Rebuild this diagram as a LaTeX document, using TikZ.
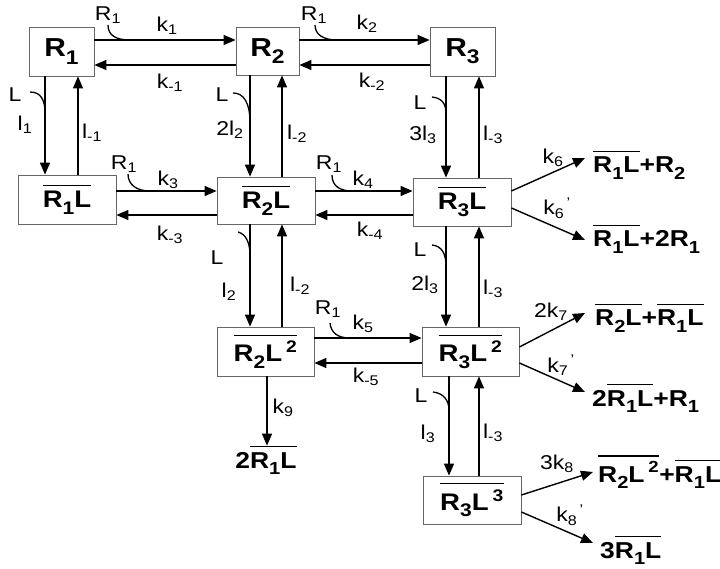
\documentclass[tikz,border=0pt]{standalone}
\usepackage{fontspec}
\usepackage{graphicx}
\setmainfont[FakeStretch=1.15]{Liberation Sans}
\usetikzlibrary{arrows.meta}
\newcommand{\ovl}[1]{\mbox{\vbox{\hrule height 1.3pt\kern 5pt\hbox{#1}}}}
\newcommand{\sbs}[1]{\textsubscript{#1}}
\newcommand{\bsb}[1]{\raisebox{-0.28em}{\scalebox{0.76}{#1}}}
\newcommand{\pr}{\textsuperscript{\,'}}
\begin{document}
\begin{tikzpicture}[x=1pt,y=-1pt,
  box/.style={draw=black!60, line width=0.8pt, fill=white, inner sep=0pt, font=\fontsize{24}{26}\selectfont\bfseries},
  topbox/.style={box, font=\fontsize{26}{28}\selectfont\bfseries},
  lbl/.style={inner sep=0pt, font=\fontsize{20}{22}\selectfont},
  prod/.style={inner sep=0pt, anchor=base west, font=\fontsize{23}{25}\selectfont\bfseries},
  arr/.style={-{Triangle[length=12pt,width=10pt]}, line width=1.4pt},
  hook/.style={line width=1.3pt}]
\fill[white] (0,0) rectangle (720,569);
\useasboundingbox (0,0) rectangle (720,569);

% boxes
\node[topbox, minimum width=65pt, minimum height=49pt] (R1) at (61.5,51.5) {R\bsb{1}};
\node[topbox, minimum width=63pt, minimum height=48pt] (R2) at (267.5,51) {R\bsb{2}};
\node[topbox, minimum width=65pt, minimum height=49pt] (R3) at (462.5,51.5) {R\bsb{3}};
\node[box, minimum width=98pt, minimum height=49pt] (R1L) at (67,199.5) {\ovl{R\bsb{1}L}};
\node[box, minimum width=98pt, minimum height=47pt] (R2L) at (266,200.5) {\ovl{R\bsb{2}L}};
\node[box, minimum width=98pt, minimum height=48pt] (R3L) at (462,202) {\ovl{R\bsb{3}L}};
\node[box, minimum width=97pt, minimum height=49pt] (R2L2) at (265.5,351.5) {\ovl{R\bsb{2}L\,\textsuperscript{2}}};
\node[box, minimum width=97pt, minimum height=49pt] (R3L2) at (470.5,351.5) {\ovl{R\bsb{3}L\,\textsuperscript{2}}};
\node[box, minimum width=98pt, minimum height=48pt] (R3L3) at (472,500) {\ovl{R\bsb{3}L\,\textsuperscript{3}}};

% products
\node[prod] (p6a) at (593,173) {\ovl{R\bsb{1}L}+R\bsb{2}};
\node[prod] (p6b) at (593,247) {\ovl{R\bsb{1}L}+2R\bsb{1}};
\node[prod] (p7a) at (595,326) {\ovl{R\bsb{2}L}+\ovl{R\bsb{1}L}};
\node[prod] (p7b) at (592,406) {2\ovl{R\bsb{1}L}+R\bsb{1}};
\node[prod] (p8a) at (598,482) {\ovl{R\bsb{2}L\,\textsuperscript{2}}+\ovl{R\bsb{1}L}};
\node[prod] (p8b) at (600,558) {3\ovl{R\bsb{1}L}};
\node[prod, anchor=base] (p9) at (266,468) {2\ovl{R\bsb{1}L}};

\coordinate (t6a) at (585,158);
\coordinate (t6b) at (585,240);
\coordinate (t7a) at (585,313);
\coordinate (t7b) at (585,392);
\coordinate (t8a) at (593,472);
\coordinate (t8b) at (593,543);

% horizontal arrows
\draw[arr] (R1.east |- 0,40) -- (R2.west |- 0,40);
\draw[arr] (R2.west |- 0,65) -- (R1.east |- 0,65);
\draw[arr] (R2.east |- 0,40) -- (R3.west |- 0,40);
\draw[arr] (R3.west |- 0,65) -- (R2.east |- 0,65);
\draw[arr] (R1L.east |- 0,191) -- (R2L.west |- 0,191);
\draw[arr] (R2L.west |- 0,215) -- (R1L.east |- 0,215);
\draw[arr] (R2L.east |- 0,191) -- (R3L.west |- 0,191);
\draw[arr] (R3L.west |- 0,215) -- (R2L.east |- 0,215);
\draw[arr] (R2L2.east |- 0,338) -- (R3L2.west |- 0,338);
\draw[arr] (R3L2.west |- 0,363) -- (R2L2.east |- 0,363);

% vertical arrows
\draw[arr] (R1.south -| 45,0) -- (R1L.north -| 45,0);
\draw[arr] (R1L.north -| 78,0) -- (R1.south -| 78,0);
\draw[arr] (R2.south -| 250,0) -- (R2L.north -| 250,0);
\draw[arr] (R2L.north -| 282,0) -- (R2.south -| 282,0);
\draw[arr] (R3.south -| 446,0) -- (R3L.north -| 446,0);
\draw[arr] (R3L.north -| 479,0) -- (R3.south -| 479,0);
\draw[arr] (R2L.south -| 250,0) -- (R2L2.north -| 250,0);
\draw[arr] (R2L2.north -| 282,0) -- (R2L.south -| 282,0);
\draw[arr] (R3L.south -| 446,0) -- (R3L2.north -| 446,0);
\draw[arr] (R3L2.north -| 479,0) -- (R3L.south -| 479,0);
\draw[arr] (R3L2.south -| 449,0) -- (R3L3.north -| 449,0);
\draw[arr] (R3L3.north -| 479,0) -- (R3L2.south -| 479,0);
\draw[arr] (R2L2.south -| 267,0) -- (p9.north -| 267,0);

% side arrows
\draw[arr] (R3L.east |- 0,191) -- (t6a);
\draw[arr] (R3L.east |- 0,208) -- (t6b);
\draw[arr] (R3L2.east |- 0,347) -- (t7a);
\draw[arr] (R3L2.east |- 0,363) -- (t7b);
\draw[arr] (R3L3.east |- 0,495) -- (t8a);
\draw[arr] (R3L3.east |- 0,512) -- (t8b);

% hooks
\draw[hook] (108,25) .. controls (108,36) and (117,40) .. (130,40);
\draw[hook] (30,92) .. controls (41,92) and (45,100) .. (45,113);
\draw[hook] (315,25) .. controls (315,35) and (324,40) .. (337,40);
\draw[hook] (233,93) .. controls (244,93) and (250,103) .. (250,123);
\draw[hook] (432,97) .. controls (442,98) and (446,104) .. (446,113);
\draw[hook] (128,174) .. controls (128,185) and (137,191) .. (150,191);
\draw[hook] (332,175) .. controls (332,186) and (340,191) .. (352,191);
\draw[hook] (238,232) .. controls (246,234) and (250,243) .. (250,255);
\draw[hook] (432,245) .. controls (442,246) and (446,254) .. (446,266);
\draw[hook] (330,323) .. controls (331,333) and (338,338) .. (350,338);
\draw[hook] (433,392) .. controls (443,393) and (449,400) .. (449,410);

% labels top row
\node[lbl] (a1) at (108,15) {R\sbs{1}};
\node[lbl] (a2) at (167,26) {k\sbs{1}};
\node[lbl] (a3) at (170,83) {k\sbs{-1}};
\node[lbl] (a4) at (15,95) {L};
\node[lbl] (a5) at (25,125) {l\sbs{1}};
\node[lbl] (a6) at (92,133) {l\sbs{-1}};
\node[lbl] (a7) at (314,15) {R\sbs{1}};
\node[lbl] (a8) at (367,24) {k\sbs{2}};
\node[lbl] (a9) at (372,82) {k\sbs{-2}};
\node[lbl] (a10) at (222,95) {L};
\node[lbl] (a11) at (230,130) {2l\sbs{2}};
\node[lbl] (a12) at (297,134) {l\sbs{-2}};
\node[lbl] (a13) at (420,103) {L};
\node[lbl] (a14) at (423,135) {3l\sbs{3}};
\node[lbl] (a15) at (493,135) {l\sbs{-3}};
% second row
\node[lbl] (b1) at (124,164) {R\sbs{1}};
\node[lbl] (b2) at (168,180) {k\sbs{3}};
\node[lbl] (b3) at (170,235) {k\sbs{-3}};
\node[lbl] (b4) at (329,164) {R\sbs{1}};
\node[lbl] (b5) at (363,180) {k\sbs{4}};
\node[lbl] (b6) at (370,231) {k\sbs{-4}};
\node[lbl] (b7) at (217,258) {L};
\node[lbl] (b8) at (229,292) {l\sbs{2}};
\node[lbl] (b9) at (300,286) {l\sbs{-2}};
\node[lbl] (b10) at (420,250) {L};
\node[lbl] (b11) at (425,285) {2l\sbs{3}};
\node[lbl] (b12) at (493,289) {l\sbs{-3}};
% third row
\node[lbl] (c1) at (328,309) {R\sbs{1}};
\node[lbl] (c2) at (363,324) {k\sbs{5}};
\node[lbl] (c3) at (366,377) {k\sbs{-5}};
\node[lbl] (c4) at (283,408) {k\sbs{9}};
\node[lbl] (c5) at (421,396) {L};
\node[lbl] (c6) at (428,434) {l\sbs{3}};
\node[lbl] (c7) at (493,433) {l\sbs{-3}};
% side labels
\node[lbl] (d1) at (553,158) {k\sbs{6}};
\node[lbl] (d2) at (557,208) {k\sbs{6}\pr};
\node[lbl] (d3) at (551,312) {2k\sbs{7}};
\node[lbl] (d4) at (561,365) {k\sbs{7}\pr};
\node[lbl] (d5) at (557,464) {3k\sbs{8}};
\node[lbl] (d6) at (570,515) {k\sbs{8}\pr};
\end{tikzpicture}
\end{document}
